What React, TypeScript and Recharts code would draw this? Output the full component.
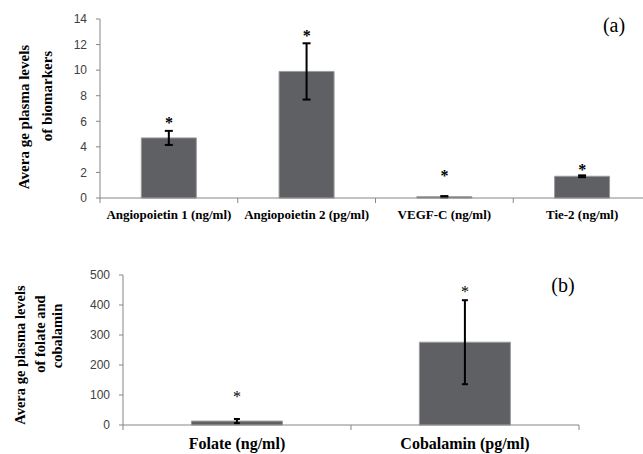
import React from 'react';
import { ComposedChart, Bar, ErrorBar, Scatter, XAxis, YAxis } from 'recharts';

// panel (a): angiogenic biomarkers
const biomarkerNames = ['Angiopoietin 1 (ng/ml)', 'Angiopoietin 2 (pg/ml)', 'VEGF-C (ng/ml)', 'Tie-2 (ng/ml)'];
const biomarkerMeans = [4.7, 9.9, 0.1, 1.7];
const biomarkerErrors = [0.55, 2.2, 0.05, 0.07];
const biomarkerStars = [6.2, 13.0, 2.0, 2.5];
const biomarkerTicks = [0, 2, 4, 6, 8, 10, 12, 14];

// panel (b): folate and cobalamin
const vitaminNames = ['Folate (ng/ml)', 'Cobalamin (pg/ml)'];
const vitaminMeans = [13, 276];
const vitaminErrors = [7, 140];
const vitaminStars = [107, 457];
const vitaminTicks = [0, 100, 200, 300, 400, 500];

const AXIS = '#868686';
const BAR = '#5f6064';
const SERIF = '"Liberation Serif", "Times New Roman", serif';
const SANS = '"Liberation Sans", Arial, sans-serif';

const toRows = (names: string[], means: number[], errors: number[], stars: number[]) =>
  names.map((name, i) => ({ name, value: means[i], err: errors[i], star: stars[i] }));

const biomarkerData = toRows(biomarkerNames, biomarkerMeans, biomarkerErrors, biomarkerStars);
const vitaminData = toRows(vitaminNames, vitaminMeans, vitaminErrors, vitaminStars);

function CategoryTick(props: any) {
  const { x, y, payload, index, visibleTicksCount, width, fontSize, labelDy } = props;
  const half = payload?.offset || width / visibleTicksCount / 2;
  const last = index === visibleTicksCount - 1;
  return (
    <g>
      <line x1={x - half} x2={x - half} y1={y} y2={y + 5} stroke={AXIS} />
      {last && <line x1={x + half} x2={x + half} y1={y} y2={y + 5} stroke={AXIS} />}
      <text x={x} y={y + labelDy} textAnchor="middle" fontFamily={SERIF} fontWeight="bold" fontSize={fontSize} fill="#000">
        {payload.value}
      </text>
    </g>
  );
}

function Star(props: any) {
  const { cx, cy, size, bold } = props;
  return (
    <text x={cx} y={cy + size * 0.55} textAnchor="middle" fontFamily={SERIF} fontWeight={bold ? 'bold' : 'normal'} fontSize={size} fill="#000" stroke="none">
      *
    </text>
  );
}

type LabelLine = { text: string; x: number; y: number };

// multi-line y axis title, each line rotated about its own centre
function axisTitle(lines: LabelLine[], size: number) {
  return () => (
    <g>
      {lines.map((l) => (
        <text
          key={l.text}
          x={l.x}
          y={l.y}
          transform={`rotate(-90, ${l.x}, ${l.y})`}
          textAnchor="middle"
          dominantBaseline="central"
          fontFamily={SERIF}
          fontWeight="bold"
          fontSize={size}
          fill="#000"
        >
          {l.text}
        </text>
      ))}
    </g>
  );
}

function Tag({ x, y, children }: { x: number; y: number; children: React.ReactNode }) {
  return (
    <div
      style={{
        position: 'absolute',
        left: x,
        top: y,
        transform: 'translate(-50%, -50%)',
        fontFamily: SERIF,
        fontSize: 20,
        lineHeight: 1,
        color: '#000',
      }}
    >
      {children}
    </div>
  );
}

const tickStyle = { fontFamily: SANS, fontSize: 12, fill: '#404040' };

export default function App() {
  return (
    <div style={{ position: 'absolute', left: 0, top: 0, width: 643, height: 454, overflow: 'hidden', background: '#fff' }}>
      <div style={{ position: 'absolute', left: 0, top: 0 }}>
        <ComposedChart width={660} height={230} data={biomarkerData} margin={{ top: 19, right: 9, bottom: 2, left: 0 }} barCategoryGap="30%">
          <XAxis
            dataKey="name"
            interval={0}
            height={30}
            tickLine={false}
            tickSize={0}
            tickMargin={0}
            stroke={AXIS}
            tick={(p: any) => <CategoryTick {...p} fontSize={13} labelDy={21} />}
          />
          <YAxis
            type="number"
            domain={[0, 14]}
            ticks={biomarkerTicks}
            width={100}
            stroke={AXIS}
            tickSize={4}
            tickMargin={9}
            tick={tickStyle}
            label={{
              content: axisTitle(
                [
                  { text: 'Avera ge plasma levels', x: 24, y: 117 },
                  { text: 'of biomarkers', x: 47, y: 96 },
                ],
                15,
              ),
            }}
          />
          <Bar dataKey="value" fill={BAR} stroke="#9a9a9a" strokeWidth={1} isAnimationActive={false}>
            <ErrorBar dataKey="err" width={4} strokeWidth={2} stroke="#000" />
          </Bar>
          <Scatter dataKey="star" fill="#000" isAnimationActive={false} shape={(p: any) => <Star {...p} size={16} bold />} />
        </ComposedChart>
      </div>
      <div style={{ position: 'absolute', left: 0, top: 240 }}>
        <ComposedChart width={660} height={214} data={vitaminData} margin={{ top: 35, right: 81, bottom: 2, left: 0 }} barCategoryGap="30%">
          <XAxis
            dataKey="name"
            interval={0}
            height={27}
            tickLine={false}
            tickSize={0}
            tickMargin={0}
            stroke={AXIS}
            tick={(p: any) => <CategoryTick {...p} fontSize={16} labelDy={24} />}
          />
          <YAxis
            type="number"
            domain={[0, 500]}
            ticks={vitaminTicks}
            width={123}
            stroke={AXIS}
            tickSize={4}
            tickMargin={9}
            tick={tickStyle}
            label={{
              content: axisTitle(
                [
                  { text: 'Avera ge plasma levels', x: 20, y: 115 },
                  { text: 'of folate and', x: 40, y: 94 },
                  { text: 'cobalamin', x: 57, y: 96 },
                ],
                14.5,
              ),
            }}
          />
          <Bar dataKey="value" fill={BAR} stroke="#9a9a9a" strokeWidth={1} isAnimationActive={false}>
            <ErrorBar dataKey="err" width={3} strokeWidth={2} stroke="#000" />
          </Bar>
          <Scatter dataKey="star" fill="#000" isAnimationActive={false} shape={(p: any) => <Star {...p} size={16} />} />
        </ComposedChart>
      </div>

      <Tag x={614} y={25}>(a)</Tag>
      <Tag x={563} y={285}>(b)</Tag>
    </div>
  );
}
